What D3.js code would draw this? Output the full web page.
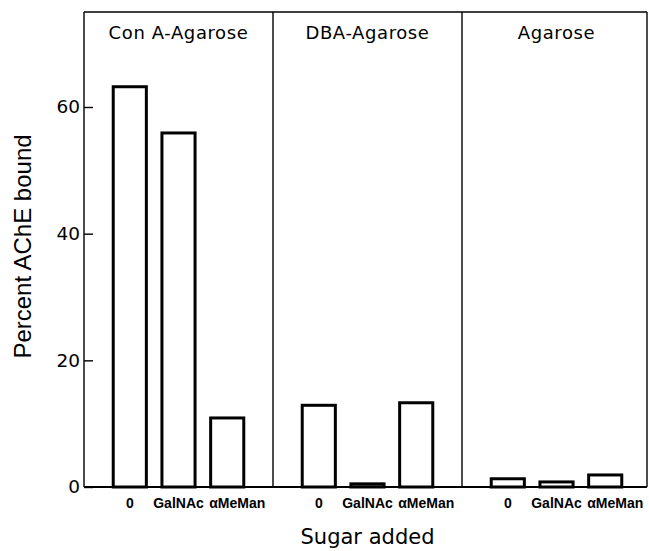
<!DOCTYPE html>
<html>
<head>
<meta charset="utf-8">
<script src="https://cdn.jsdelivr.net/npm/d3@7"></script>
<style>
  html, body { margin: 0; padding: 0; background: #fff; }
  svg { display: block; }
</style>
</head>
<body>
<svg id="chart" width="649" height="551"></svg>
<script>
// ---- data ----
const panels = ["Con A-Agarose", "DBA-Agarose", "Agarose"];
const sugars = ["0", "GalNAc", "αMeMan"];
const conA = [63.2, 55.9, 10.9];
const dba = [12.9, 0.5, 13.3];
const agarose = [1.3, 0.8, 1.9];
const yTicks = [0, 20, 40, 60];
const yLabel = "Percent AChE bound";
const xLabel = "Sugar added";

const seriesByPanel = [conA, dba, agarose];

// ---- layout ----
const svg = d3.select("#chart");
const mLeft = 84, mRight = 647, mTop = 12, mBottom = 487;

const y = d3.scaleLinear().domain([0, 75]).range([mBottom, mTop]);
const xPanel = d3.scaleBand().domain(panels).range([mLeft, mRight + 4]).padding(0);
const xInner = d3.scaleBand().domain(sugars).range([0, xPanel.bandwidth()])
  .paddingInner(0.32).paddingOuter(0.6);

// frame
const frame = svg.append("g").attr("stroke", "#000").attr("fill", "none");
frame.append("line").attr("x1", mLeft).attr("x2", mRight).attr("y1", mTop).attr("y2", mTop).attr("stroke-width", 1.6);
frame.append("line").attr("x1", mRight).attr("x2", mRight).attr("y1", mTop).attr("y2", mBottom).attr("stroke-width", 1.4);
frame.append("line").attr("x1", mLeft).attr("x2", mRight).attr("y1", mBottom).attr("y2", mBottom).attr("stroke-width", 1.8);
panels.slice(1).forEach(p => {
  frame.append("line").attr("x1", xPanel(p)).attr("x2", xPanel(p))
    .attr("y1", mTop).attr("y2", mBottom).attr("stroke-width", 1.4);
});

// y axis
const yAxis = d3.axisLeft(y).tickValues(yTicks).tickSizeInner(-9).tickSizeOuter(0).tickPadding(4)
  .tickFormat(d3.format("d"));
const ya = svg.append("g").attr("transform", `translate(${mLeft},0)`).call(yAxis);
ya.select(".domain").attr("stroke-width", 1.4).attr("d", `M0,${mTop}V${mBottom}`);
ya.selectAll(".tick line").attr("stroke-width", 1.4);
ya.selectAll(".tick text").attr("font-family", "DejaVu Sans, sans-serif")
  .attr("font-size", 18.5).attr("fill", "#000");

// panels
panels.forEach((p, pi) => {
  const g = svg.append("g").attr("transform", `translate(${xPanel(p)},0)`);
  g.append("text")
    .attr("x", xPanel.bandwidth() / 2).attr("y", 39)
    .attr("text-anchor", "middle")
    .attr("font-family", "DejaVu Sans, sans-serif").attr("font-size", 18)
    .attr("letter-spacing", 0.6)
    .attr("fill", "#000")
    .text(p);
  const vals = seriesByPanel[pi];
  g.selectAll("rect").data(sugars).enter().append("rect")
    .attr("x", d => xInner(d))
    .attr("width", xInner.bandwidth())
    .attr("y", (d, i) => y(vals[i]))
    .attr("height", (d, i) => Math.max(0, mBottom - y(vals[i])))
    .attr("fill", "#fff").attr("stroke", "#000").attr("stroke-width", 3);
  g.selectAll("text.cat").data(sugars).enter().append("text")
    .attr("class", "cat")
    .attr("x", d => xInner(d) + xInner.bandwidth() / 2)
    .attr("dx", (d, i) => i === 2 ? 10 : 0)
    .attr("y", 508)
    .attr("text-anchor", "middle")
    .attr("font-family", "Liberation Sans, Arial, sans-serif").attr("font-weight", "bold")
    .attr("font-size", 14).attr("fill", "#000")
    .text(d => d);
});

// axis labels
svg.append("text")
  .attr("x", (mLeft + mRight) / 2 + 2).attr("y", 544)
  .attr("text-anchor", "middle")
  .attr("font-family", "DejaVu Sans, sans-serif").attr("font-size", 21).attr("fill", "#000")
  .text(xLabel);

svg.append("text")
  .attr("transform", `translate(31,${(mTop + mBottom) / 2 - 3}) rotate(-90)`)
  .attr("text-anchor", "middle")
  .attr("font-family", "Liberation Sans, Arial, sans-serif").attr("font-size", 24).attr("fill", "#000")
  .text(yLabel);
</script>
</body>
</html>
